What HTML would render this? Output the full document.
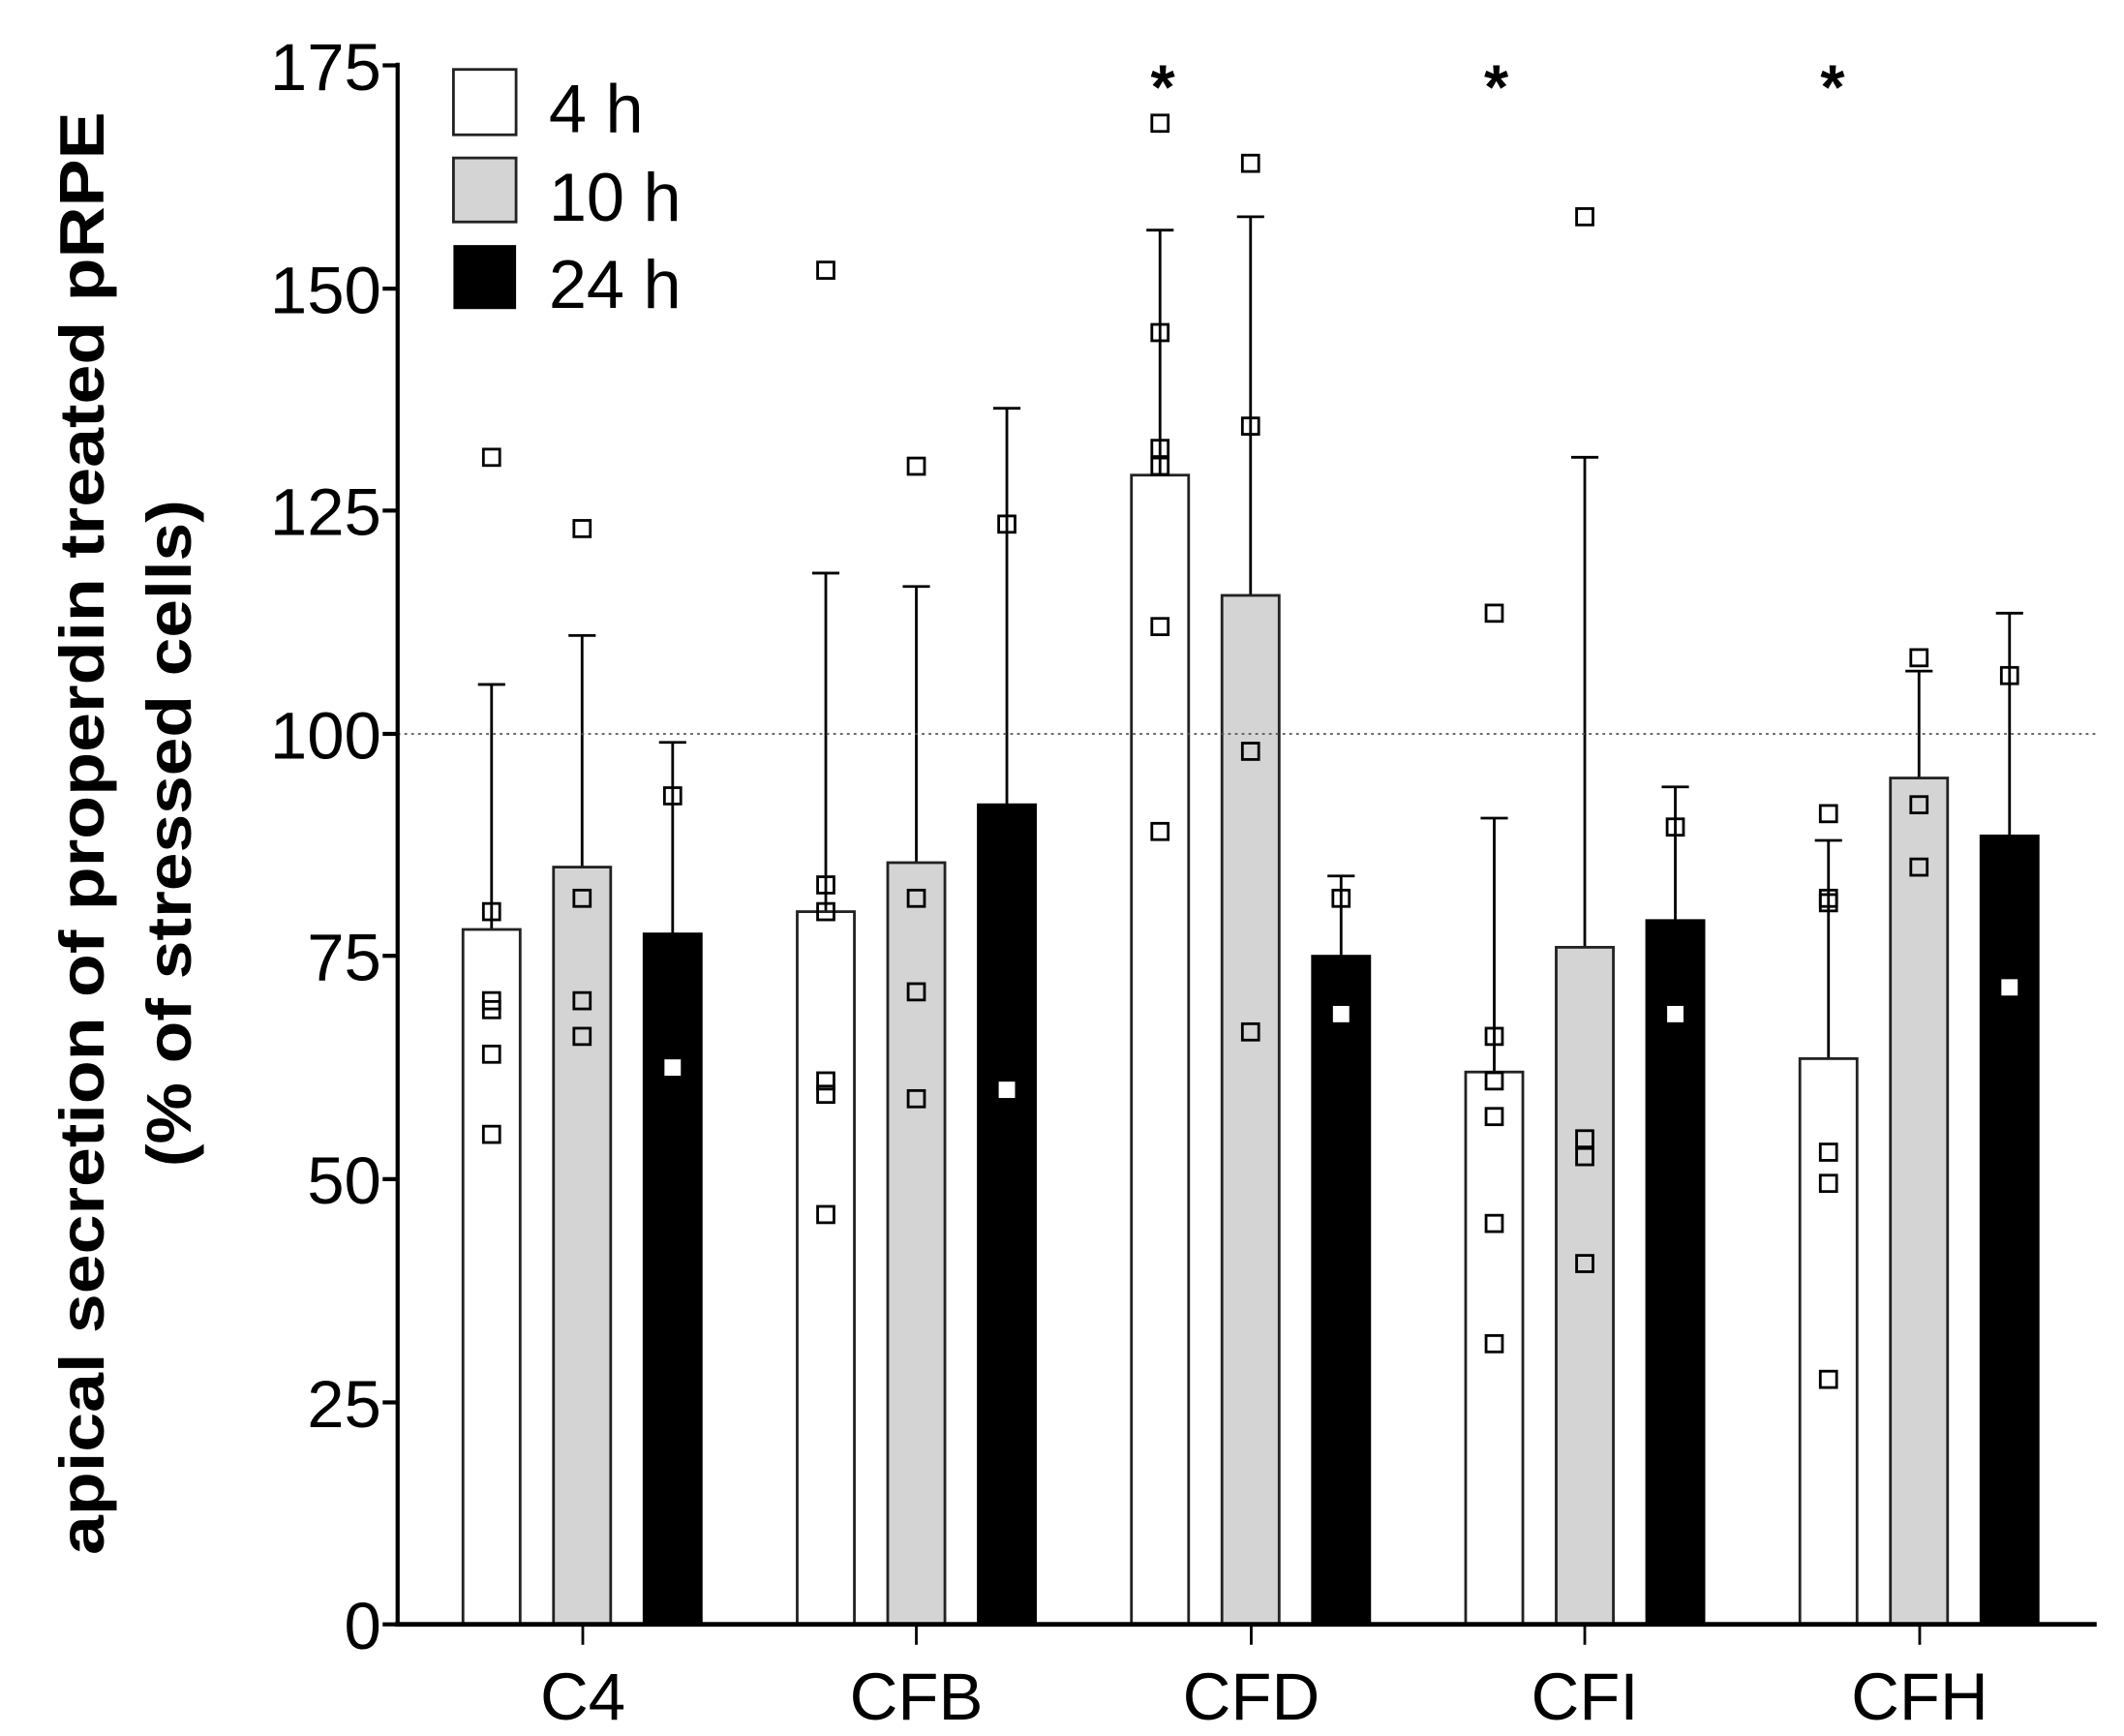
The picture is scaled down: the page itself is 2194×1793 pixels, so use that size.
<!DOCTYPE html>
<html><head><meta charset="utf-8"><style>
html,body{margin:0;padding:0;background:#fff;}
svg{display:block;}
text{font-family:"Liberation Sans",Arial,sans-serif;}
</style></head><body>
<svg id="s" width="2194" height="1793" viewBox="0 0 1560 1275" xmlns="http://www.w3.org/2000/svg">
<rect width="1560" height="1275" fill="#fff"/>
<g id="bars"></g>
<line x1="292" y1="539" x2="1540" y2="539" stroke="#555" stroke-width="1.3" stroke-dasharray="2,3"/>
<line x1="292" y1="46" x2="292" y2="1194" stroke="#000" stroke-width="3"/>
<line x1="290" y1="1193" x2="1540" y2="1193" stroke="#000" stroke-width="3.5"/>
<g stroke="#000" stroke-width="3">
<line x1="281" y1="48" x2="292" y2="48"/><line x1="281" y1="212" x2="292" y2="212"/>
<line x1="281" y1="375" x2="292" y2="375"/><line x1="281" y1="539" x2="292" y2="539"/>
<line x1="281" y1="702" x2="292" y2="702"/><line x1="281" y1="866" x2="292" y2="866"/>
<line x1="281" y1="1030" x2="292" y2="1030"/><line x1="281" y1="1193" x2="292" y2="1193"/>
</g>
<g stroke="#000" stroke-width="2">
<line x1="428" y1="1193" x2="428" y2="1208"/><line x1="673" y1="1193" x2="673" y2="1208"/>
<line x1="919" y1="1193" x2="919" y2="1208"/><line x1="1164" y1="1193" x2="1164" y2="1208"/>
<line x1="1410" y1="1193" x2="1410" y2="1208"/>
</g>
<g font-size="49" text-anchor="end">
<text x="280" y="66">175</text><text x="280" y="230">150</text><text x="280" y="393">125</text>
<text x="280" y="557">100</text><text x="280" y="720">75</text><text x="280" y="884">50</text>
<text x="280" y="1048">25</text><text x="280" y="1211">0</text>
</g>
<g font-size="49" text-anchor="middle">
<text x="428" y="1263">C4</text><text x="673" y="1263">CFB</text><text x="919" y="1263">CFD</text>
<text x="1164" y="1263">CFI</text><text x="1410" y="1263">CFH</text>
</g>
<g font-size="46" font-weight="bold" text-anchor="middle">
<text x="854" y="80">*</text><text x="1099" y="80">*</text><text x="1346" y="80">*</text>
</g>
<g transform="translate(60,612) rotate(-90)" font-size="46" font-weight="bold" text-anchor="middle">
<text x="0" y="16" textLength="1060" lengthAdjust="spacingAndGlyphs">apical secretion of properdin treated pRPE</text>
<text x="0" y="80" textLength="490" lengthAdjust="spacingAndGlyphs">(% of stressed cells)</text>
</g>
<rect x="333" y="51" width="46" height="48" fill="#fff" stroke="#222" stroke-width="2"/>
<rect x="333" y="116" width="46" height="47" fill="#d4d4d4" stroke="#222" stroke-width="2"/>
<rect x="333" y="180" width="46" height="47" fill="#000"/>
<g font-size="50"><text x="403" y="97">4 h</text><text x="403" y="162">10 h</text><text x="403" y="226">24 h</text></g>
</svg>
<script>
var y=function(v){return 1193-v*6.543;};
var D=[
[[78,105.5,[131,80,70,69,64,55]],[85,111,[123,81.5,70,66]],[77.5,99,[62.5,93]]],
[[80,118,[152,83,80,61,59.5,46]],[85.5,116.5,[130,81.5,71,59]],[92,136.5,[60,123.5]]],
[[129,156.5,[168.5,145,132,130,112,89]],[115.5,158,[164,134.5,98,66.5]],[75,84,[68.5,81.5]]],
[[62,90.5,[113.5,66,61,57,45,31.5]],[76,131,[158,54.5,52.5,40.5]],[79,94,[68.5,89.5]]],
[[63.5,88,[91,81.5,81,53,49.5,27.5]],[95,107,[108.5,92,85]],[88.5,113.5,[71.5,106.5]]]];
var fills=["#fff","#d4d4d4","#000"],h="";
for(var g=0;g<5;g++){for(var b=0;b<3;b++){
 var cx=361+g*245.5+b*66.5,d=D[g][b],t=y(d[0]),e=y(d[1]);
 h+='<line x1="'+cx+'" y1="'+e+'" x2="'+cx+'" y2="'+t+'" stroke="#000" stroke-width="2"/>';
 h+='<line x1="'+(cx-10)+'" y1="'+e+'" x2="'+(cx+10)+'" y2="'+e+'" stroke="#000" stroke-width="2"/>';
 h+='<rect x="'+(cx-21)+'" y="'+t+'" width="42" height="'+(1193-t)+'" fill="'+fills[b]+'" stroke="'+(b==2?'#000':'#222')+'" stroke-width="2"/>';
 for(var k=0;k<d[2].length;k++){var py=y(d[2][k]);var inside=d[2][k]<d[0];
  if(b==2&&inside) h+='<rect x="'+(cx-6)+'" y="'+(py-6)+'" width="12" height="12" fill="#fff"/>';
  else h+='<rect x="'+(cx-6)+'" y="'+(py-6)+'" width="12" height="12" fill="none" stroke="#000" stroke-width="2"/>';}
}}
document.getElementById("bars").innerHTML=h;
</script>
</body></html>
